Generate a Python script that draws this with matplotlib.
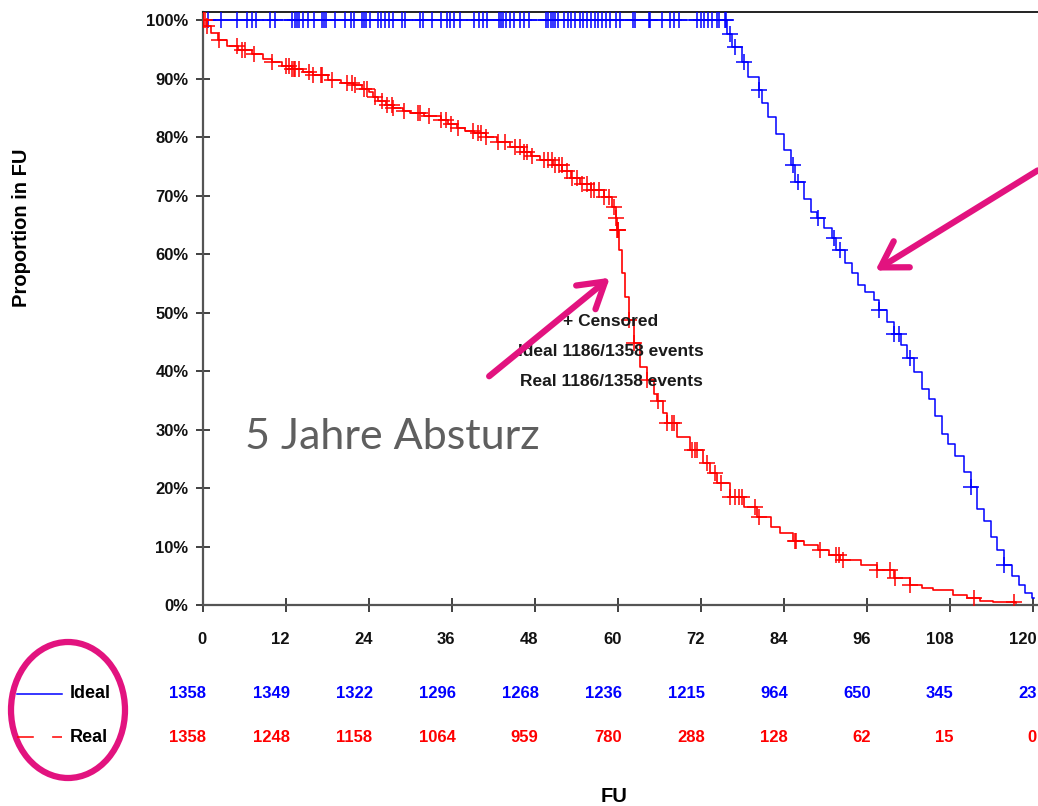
import numpy as np
import matplotlib
matplotlib.use("Agg")
import matplotlib.pyplot as plt
from matplotlib import transforms
from matplotlib.lines import Line2D
from matplotlib.patches import Ellipse, FancyArrowPatch

# Kaplan-Meier step data (months, % still in follow-up)
real_t = [0, 0.6, 1.2, 2.3, 3.5, 5.2, 7.2, 8.8, 10.1, 11.5, 13, 14.5, 15.9, 18.2, 20, 21.7,
          23, 24, 24.7, 25.3, 26.5, 27.5, 29, 30, 32, 34.4, 35.5, 36.8, 38, 39.2, 41, 42.6,
          44.5, 46.4, 47.5, 48.8, 50.7, 52, 53.2, 54.5, 56.1, 58, 59.2, 59.7, 59.9, 60.2,
          60.6, 61.1, 61.6, 62.3, 63.3, 64.3, 65.2, 65.7, 66.5, 67.2, 68.6, 70.5, 72.4, 73.4,
          74.4, 76.3, 78.2, 80.2, 82.1, 83.5, 85.4, 87, 89, 90.5, 92.2, 95.1, 97.5, 99.9,
          102.3, 104, 105.6, 108.5, 110.5, 112.4, 114.3, 117.5]
real_s = [100, 99.0, 97.8, 96.6, 95.6, 94.9, 94.2, 93.4, 92.8, 92.2, 91.6, 91.1, 90.6, 89.7, 89.3, 88.9,
          88.3, 87.7, 86.8, 86.1, 85.5, 85.0, 84.4, 84.1, 83.6, 82.9, 82.3, 81.5, 81.0, 80.7, 80.0, 79.1,
          78.3, 77.4, 76.8, 76.1, 75.2, 74.2, 73.0, 72.0, 70.9, 69.7, 68.0, 66.2, 64.1, 60.7,
          56.7, 52.7, 48.7, 44.8, 40.7, 38.5, 36.0, 34.8, 32.8, 31.1, 28.7, 26.5, 24.3, 22.5,
          20.9, 18.5, 16.8, 15.0, 13.3, 12.3, 10.9, 10.2, 9.4, 8.5, 7.7, 6.8, 6.0, 4.6,
          3.4, 2.9, 2.6, 1.7, 1.2, 0.7, 0.5, 0.4]

ideal_t = [0, 75.8, 76.5, 77.9, 78.9, 80.4, 80.9, 81.8, 82.9, 84.0, 85.0, 85.7, 86.9, 87.9, 88.8,
           89.8, 91.0, 91.5, 92.9, 93.9, 94.8, 95.8, 97.0, 97.7, 98.9, 99.9, 100.9, 101.8, 102.8,
           104.0, 105.0, 105.9, 106.9, 107.8, 108.8, 110.0, 111.0, 111.9, 112.9, 113.9, 114.8,
           115.9, 117.0, 118.0, 118.9, 119.9, 120.2]
ideal_s = [100, 97.7, 95.4, 92.9, 90.3, 88.0, 85.8, 83.5, 80.6, 77.8, 75.2, 72.4, 69.5, 67.2, 66.1,
           64.4, 62.7, 60.7, 58.4, 56.7, 54.7, 53.6, 52.1, 50.4, 48.4, 46.4, 44.4, 42.2, 39.9,
           36.9, 35.3, 32.3, 29.3, 27.5, 25.5, 22.8, 20.2, 16.5, 14.4, 11.7, 9.4,
           6.8, 5.0, 3.4, 2.0, 1.2, 1.2]

# censoring times
real_cens = [0, 0.1, 0.3, 0.6, 2.4, 5.0, 5.7, 6.2, 7.4, 10.1, 12.0, 12.5, 13.0, 13.2, 13.4, 13.9,
             15.4, 15.9, 17.1, 17.3, 18.7, 20.9, 21.6, 22.1, 23.3, 23.8, 25.0, 26.0, 26.7, 27.4,
             27.6, 29.1, 31.1, 31.5, 32.8, 34.4, 35.2, 35.9, 36.9, 39.1, 39.8, 40.3, 41.0, 42.7,
             43.7, 45.1, 45.9, 46.4, 46.9, 47.6, 49.3, 50.0, 50.5, 51.0, 51.5, 51.9, 52.7, 53.4,
             54.1, 54.9, 55.6, 56.1, 56.6, 57.3, 58.0, 58.7, 59.5, 59.75, 59.95, 60.0, 60.1,
             61.7, 62.4, 64.3, 65.9, 67.2, 67.9, 68.1, 70.8, 71.2, 71.5, 72.9, 74.1, 74.9, 76.3,
             77.0, 77.5, 78.0, 79.9, 80.4, 85.6, 85.8, 89.3, 91.5, 92.0, 92.6, 97.5, 99.4, 100.1,
             102.3, 111.5, 117.3]
ideal_cens = [0.8, 2.7, 5.0, 6.4, 7.2, 7.8, 9.7, 10.5, 13.0, 13.3, 13.6, 13.9, 14.5, 15.3, 16.1,
              17.2, 17.5, 17.8, 19.2, 20.6, 21.4, 21.9, 23.0, 23.3, 23.6, 24.2, 25.3, 25.8, 26.4,
              27.0, 27.5, 28.9, 29.2, 31.4, 31.9, 33.1, 34.5, 35.3, 35.8, 36.4, 37.2, 39.2, 40.0,
              40.6, 41.1, 42.8, 43.1, 43.4, 43.9, 44.5, 45.0, 45.9, 46.4, 47.2, 49.7, 50.0, 50.3,
              50.6, 50.9, 51.4, 52.2, 52.8, 53.3, 53.9, 54.5, 55.0, 55.6, 56.1, 56.7, 57.2, 57.8,
              58.3, 58.9, 59.7, 60.3, 62.2, 62.5, 64.5, 64.7, 66.4, 67.5, 68.1, 68.9, 71.4, 72.0,
              72.5, 73.1, 73.6, 74.4, 74.7, 75.5, 75.7, 76.3, 77.0, 78.2, 80.4, 85.4, 86.1, 89.0,
              91.2, 92.2, 97.7, 99.9, 100.6, 102.3, 111.0, 115.9]

# number at risk
risk_times = [0, 12, 24, 36, 48, 60, 72, 84, 96, 108, 120]
risk_ideal = [1358, 1349, 1322, 1296, 1268, 1236, 1215, 964, 650, 345, 23]
risk_real = [1358, 1248, 1158, 1064, 959, 780, 288, 128, 62, 15, 0]

BLUE = "#0000FF"
RED = "#FF0000"
PINK = "#E2137F"
ARIAL = ["Liberation Sans", "DejaVu Sans"]


def surv_at(times, surv, t):
    idx = np.searchsorted(times, t, side="right") - 1
    return np.asarray(surv)[idx]


W, H = 1038, 806
fig = plt.figure(figsize=(W / 100, H / 100), dpi=100)
ax = fig.add_axes([202.5 / W, 1 - 605 / H, (W - 202.5) / W, (605 - 12) / H])

ax.step(ideal_t, ideal_s, where="post", color=BLUE, lw=1.1, zorder=3)
ax.step(real_t, real_s, where="post", color=RED, lw=1.2, zorder=4)
ax.plot(ideal_cens, surv_at(ideal_t, ideal_s, ideal_cens), "+", color=BLUE,
        ms=11, mew=1.1, zorder=3)
ax.plot(real_cens, surv_at(real_t, real_s, real_cens), "+", color=RED,
        ms=11, mew=1.1, zorder=4)

ax.set_xlim(0, 120.75)
ax.set_ylim(0, 101.4)
ax.set_xticks(risk_times)
ax.set_xticklabels([])
ax.set_yticks(np.arange(0, 101, 10))
ax.set_yticklabels([f"{v}%" for v in range(0, 101, 10)])
ax.tick_params(axis="both", direction="inout", length=10, width=1.3, color="#333333")
ax.tick_params(axis="y", pad=5)
for lab in ax.get_yticklabels():
    lab.set_family(ARIAL)
    lab.set_fontweight("bold")
    lab.set_fontsize(12)
    lab.set_color("#111111")

for side in ["left", "bottom"]:
    ax.spines[side].set_color("#555555")
    ax.spines[side].set_linewidth(1.6)
ax.spines["top"].set_color("#222222")
ax.spines["top"].set_linewidth(1.4)
ax.spines["right"].set_visible(False)

fig.text(22 / W, 1 - 228 / H, "Proportion in FU", rotation=90, ha="center", va="center",
         family=ARIAL, fontweight="bold", fontsize=14.5)
fig.text(614 / W, 1 - 797 / H, "FU", ha="center", va="center",
         family=ARIAL, fontweight="bold", fontsize=14.5)

# censoring / event note
for txt, y in [("+ Censored", 322), ("Ideal 1186/1358 events", 351),
               ("Real 1186/1358 events", 381)]:
    fig.text(611 / W, 1 - y / H, txt, ha="center", va="center", family=ARIAL,
             fontweight="bold", fontsize=12.5, color="#1a1a1a", zorder=6)

fig.text(245 / W, 1 - 437 / H, "5 Jahre Absturz", ha="left", va="center",
         family=["Lato", "DejaVu Sans"], fontsize=31, color="#5f5f5f")

# x tick labels and number-at-risk table, right-aligned just past each tick
tr = transforms.blended_transform_factory(ax.transData, fig.transFigure)
shift = transforms.ScaledTranslation(4 / 100, 0, fig.dpi_scale_trans)
rows = [(risk_times, "#111111", 640), (risk_ideal, BLUE, 694), (risk_real, RED, 737)]
for vals, col, y in rows:
    for t, v in zip(risk_times, vals):
        ax.text(t, 1 - y / H, str(v), transform=tr + shift, ha="right", va="center",
                color=col, family=ARIAL, fontweight="bold", fontsize=12, clip_on=False)

# legend keys
fig.add_artist(Line2D([17 / W, 62 / W], [1 - 694 / H] * 2, color=BLUE, lw=1.1))
fig.add_artist(Line2D([17 / W, 62 / W], [1 - 737 / H] * 2, color=RED, lw=1.1,
                      dashes=(11, 12)))
fig.text(70 / W, 1 - 694 / H, "Ideal", ha="left", va="center", family=ARIAL,
         fontweight="bold", fontsize=13)
fig.text(70 / W, 1 - 737 / H, "Real", ha="left", va="center", family=ARIAL,
         fontweight="bold", fontsize=13)

fig.add_artist(Ellipse((68 / W, 1 - 710 / H), 114 / W, 136 / H, fill=False,
                       edgecolor=PINK, lw=4.5))

for tail, head in [((487, 378), (612, 276)), ((1040, 169), (873, 272))]:
    arr = FancyArrowPatch((tail[0] / W, 1 - tail[1] / H), (head[0] / W, 1 - head[1] / H),
                          transform=fig.transFigure, arrowstyle="->,head_length=0.9,head_width=0.55",
                          mutation_scale=20, color=PINK, lw=4.5, capstyle="round",
                          joinstyle="round", zorder=7)
    fig.add_artist(arr)

fig.savefig("out.png", dpi=100)
